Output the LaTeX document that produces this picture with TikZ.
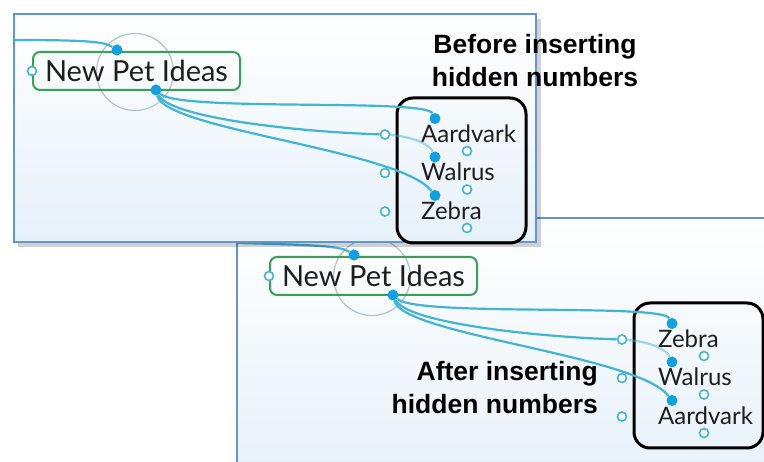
\documentclass[tikz,border=0pt]{standalone}
\usepackage{fontspec}
\setmainfont{Lato}
\newfontfamily\headfont{Liberation Sans}
\usetikzlibrary{positioning}

\definecolor{link}{RGB}{66,180,214}
\definecolor{dotblue}{RGB}{18,160,222}
\definecolor{rootgreen}{RGB}{58,160,88}
\definecolor{halogray}{RGB}{178,192,216}
\definecolor{frame}{RGB}{98,150,204}
\definecolor{panelbg}{RGB}{230,241,250}
\definecolor{ink}{RGB}{30,30,30}

% one mind map: prefix, then the three leaves from top to bottom
\newcommand\petmap[4]{%
  \node[halo] (#1-halo) at (135,72) {};
  \node[root] (#1-root) at (136.5,71) {New Pet Ideas};
  \node[hollow] (#1-in) at (#1-root.west) {};
  \node[dot] (#1-top) at (117,50) {};
  \node[dot] (#1-bot) at (156,90) {};
  \node[group] (#1-group) at (461.5,170.5) {};
  \foreach \lbl [count=\i] in {#2,#3,#4} {
    \node[dot] (#1-d\i) at (435,{80+38.5*\i}) {};
    \node[hollow] (#1-h\i) at (385,{96+38.5*\i}) {};
    \node[leaf] (#1-l\i) at (421,{104+38.5*\i}) {\lbl};
    \node[hollow] (#1-u\i) at (467,{112.5+38.5*\i}) {};
  }
  \draw[line] (#1-parent) .. controls (90,40) and (105,42) .. (#1-top);
  \draw[line] (#1-bot) .. controls (180,112) and (425,98) .. (#1-d1);
  \draw[line] (#1-bot) .. controls (170,118) and (300,132) .. (#1-h1);
  \draw[line, opacity=.5] (#1-h1) .. controls (415,137) and (430,145) .. (#1-d2);
  \draw[line] (#1-bot) .. controls (165,130) and (400,150) .. (#1-d3);
}

\begin{document}
\begin{tikzpicture}[
    x=1pt, y=-1pt,
    line/.style={draw=link, line width=2.2pt},
    dot/.style={circle, fill=dotblue, inner sep=0pt, minimum size=11pt},
    hollow/.style={circle, draw=link, fill=white, line width=1.6pt, inner sep=0pt, minimum size=9pt},
    halo/.style={circle, draw=halogray, line width=1.2pt, inner sep=0pt, minimum size=77pt},
    root/.style={draw=rootgreen, line width=2pt, rounded corners=7pt, minimum width=207pt, minimum height=38pt, inner sep=0pt, text=ink, font=\fontsize{29}{34}\selectfont},
    leaf/.style={anchor=base west, inner sep=0pt, text=ink, font=\fontsize{24}{28}\selectfont},
    group/.style={draw=black, line width=3pt, rounded corners=16pt, minimum width=129pt, minimum height=145pt},
    heading/.style={inner sep=0pt, font=\headfont\bfseries\fontsize{26.5}{33}\selectfont},
    panel/.style={draw=frame, line width=1.5pt, top color=white, bottom color=panelbg}
  ]
  \useasboundingbox (0,0) rectangle (764,462);
  \fill[white] (0,0) rectangle (764,462);

  % after: lower panel
  \path[panel] (237,218) rectangle (790,490);
  \begin{scope}[shift={(237,205)}]
    \coordinate (a-parent) at (0,38);
    \petmap{a}{Zebra}{Walrus}{Aardvark}
  \end{scope}
  \node[heading, align=right, anchor=east] (after) at (598,388) {After inserting\\hidden numbers};

  % before: upper panel with its shadow
  \fill[black, opacity=.18] (18,19) rectangle (541,247);
  \path[panel] (14,14) rectangle (536,242);
  \coordinate (b-parent) at (14,40);
  \petmap{b}{Aardvark}{Walrus}{Zebra}
  \node[heading, align=center] (before) at (535,61) {Before inserting\\hidden numbers};
\end{tikzpicture}
\end{document}
